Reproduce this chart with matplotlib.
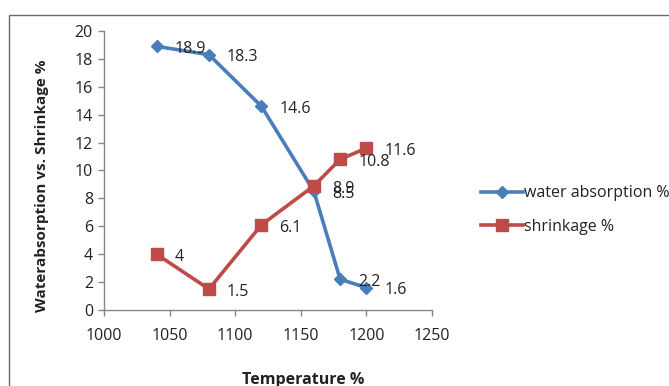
import matplotlib.pyplot as plt
from matplotlib.patches import Rectangle

temperature = [1040, 1080, 1120, 1160, 1180, 1200]
water_absorption = [18.9, 18.3, 14.6, 8.5, 2.2, 1.6]
shrinkage = [4, 1.5, 6.1, 8.9, 10.8, 11.6]
x_ticks = [1000, 1050, 1100, 1150, 1200, 1250]
y_ticks = [0, 2, 4, 6, 8, 10, 12, 14, 16, 18, 20]

blue = '#4a7ebb'
red = '#be4b48'
font = 'Open Sans'
txt = '#222222'

fig = plt.figure(figsize=(6.69, 3.86), dpi=100)
ax = fig.add_axes([0.1555, 0.197, 0.4902, 0.7227])

# outer chart-area frame, right and bottom edges run past the canvas
fig.patches.append(Rectangle((9 / 669, -0.1), 1.2, 1 - 15 / 386 + 0.1,
                             transform=fig.transFigure, fill=False,
                             edgecolor='#6a6a6a', linewidth=1.0))

ax.plot(temperature, water_absorption, color=blue, lw=2.6, marker='D',
        markersize=6.5, label='water absorption %')
ax.plot(temperature, shrinkage, color=red, lw=2.6, marker='s',
        markersize=9, label='shrinkage %')

# value labels to the right of each point
for x, y in zip(temperature, water_absorption):
    ax.annotate(f'{y:g}', (x, y), xytext=(13, -2), textcoords='offset points',
                va='center', ha='left', fontsize=11.5, family=font, color=txt)
for x, y in zip(temperature, shrinkage):
    ax.annotate(f'{y:g}', (x, y), xytext=(13, -2), textcoords='offset points',
                va='center', ha='left', fontsize=11.5, family=font, color=txt)

ax.set_xlim(1000, 1250)
ax.set_ylim(0, 20)
ax.set_xticks(x_ticks)
ax.set_yticks(y_ticks)
for lbl in ax.get_xticklabels() + ax.get_yticklabels():
    lbl.set_family(font)
    lbl.set_fontsize(11.5)
    lbl.set_color(txt)
ax.tick_params(axis='both', direction='out', length=4, width=1, color='#868686')
ax.tick_params(axis='x', pad=9)
ax.tick_params(axis='y', pad=4)
for side in ['top', 'right']:
    ax.spines[side].set_visible(False)
for side in ['left', 'bottom']:
    ax.spines[side].set_color('#868686')
    ax.spines[side].set_linewidth(1.0)

# axis titles placed on the figure
fig.text(42 / 669, 1 - 186 / 386, 'Waterabsorption vs. Shrinkage %', family=font,
         fontweight='bold', fontsize=11, color=txt, rotation=90,
         ha='center', va='center')
fig.text(303 / 669, 1 - 380 / 386, 'Temperature %', family=font, fontweight='bold',
         fontsize=11.5, color=txt, ha='center', va='center')

leg = fig.legend(loc='center left', bbox_to_anchor=(467 / 669, 1 - 210 / 386),
                 frameon=False, handlelength=2.6, handletextpad=0.05,
                 labelspacing=1.1, prop={'family': font, 'size': 11.5})
for t in leg.get_texts():
    t.set_color(txt)

fig.savefig('out.png', dpi=100)
